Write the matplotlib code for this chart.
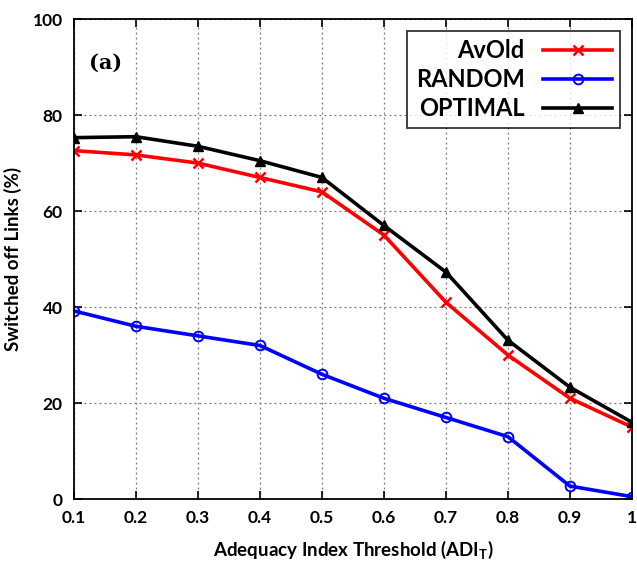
import matplotlib
matplotlib.use("Agg")
import matplotlib.pyplot as plt

x = [0.1, 0.2, 0.3, 0.4, 0.5, 0.6, 0.7, 0.8, 0.9, 1.0]
avold = [72.6, 71.7, 70.0, 67.0, 64.0, 55.0, 41.0, 30.0, 21.0, 15.0]
random_ = [39.2, 36.0, 34.0, 32.0, 26.0, 21.0, 17.0, 13.0, 2.7, 0.5]
optimal = [75.3, 75.5, 73.5, 70.5, 67.0, 57.0, 47.3, 33.1, 23.3, 16.0]
xticks = [0.1, 0.2, 0.3, 0.4, 0.5, 0.6, 0.7, 0.8, 0.9, 1.0]
xticklabels = ["0.1", "0.2", "0.3", "0.4", "0.5", "0.6", "0.7", "0.8", "0.9", "1"]
yticks = [0, 20, 40, 60, 80, 100]

plt.rcParams['font.family'] = ['Lato', 'DejaVu Sans']

fig = plt.figure(figsize=(6.37, 5.62), dpi=100)
ax = fig.add_axes([0.116, 0.112, 0.876, 0.854])

ax.plot(x, avold, color='#ff0000', lw=2.6, marker='x', ms=7, mew=1.8, label='AvOld')
ax.plot(x, random_, color='#0000ff', lw=2.6, marker='o', ms=7, mfc='none', mew=1.4, label='RANDOM')
ax.plot(x, optimal, color='black', lw=2.6, marker='^', ms=7, label='OPTIMAL')

ax.set_xlim(0.1, 1.0)
ax.set_ylim(0, 100)
ax.set_xticks(xticks)
ax.set_xticklabels(xticklabels)
ax.set_yticks(yticks)
ax.tick_params(direction='in', top=True, right=True, length=6, width=1.2,
               labelsize=12.5, pad=8)
for lbl in ax.get_xticklabels() + ax.get_yticklabels():
    lbl.set_fontweight('bold')
ax.grid(True, linestyle=(0, (1.5, 2.5)), color='#777777', lw=0.9)
for s in ax.spines.values():
    s.set_linewidth(1.3)

ax.set_xlabel('Adequacy Index Threshold (ADI$_\\mathregular{T}$)', fontsize=13.5,
              fontweight='bold', labelpad=9)
ax.set_ylabel('Switched off Links (%)', fontsize=13.5, fontweight='bold', labelpad=8)

ax.text(0.125, 91, '(a)', family='DejaVu Serif', fontweight='bold', fontsize=15, va='center')

leg = ax.legend(loc='upper right', markerfirst=False,
                prop={'size': 17, 'weight': 'bold'}, frameon=True,
                fancybox=False, edgecolor='black', handlelength=2.9,
                borderaxespad=0.5, labelspacing=0.25, borderpad=0.35)
leg.get_frame().set_linewidth(1.3)
leg._legend_box.align = 'right'

fig.savefig('out.png', dpi=100)
